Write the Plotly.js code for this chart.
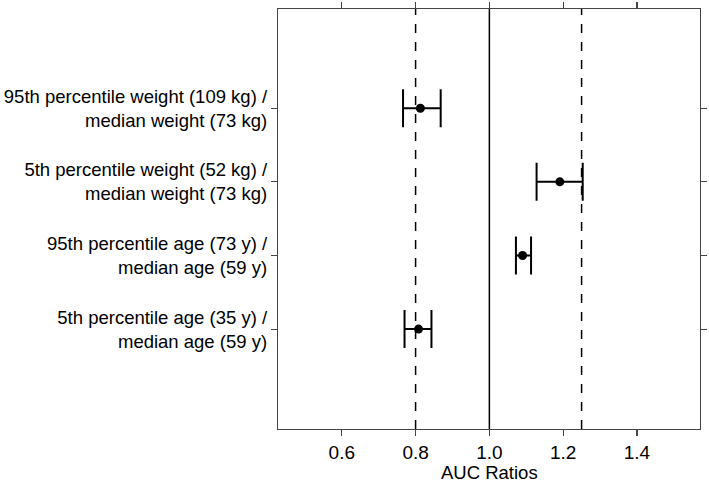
<!DOCTYPE html>
<html>
<head>
<meta charset="utf-8">
<script src="https://cdn.plot.ly/plotly-3.0.1.min.js"></script>
<style>html,body{margin:0;padding:0;background:#fff;}#chart{width:709px;height:483px;}</style>
</head>
<body>
<div id="chart"></div>
<script>
const labels = [
  "95th percentile weight (109 kg) /<br>median weight (73 kg)",
  "5th percentile weight (52 kg) /<br>median weight (73 kg)",
  "95th percentile age (73 y) /<br>median age (59 y)",
  "5th percentile age (35 y) /<br>median age (59 y)"
];
const rowPos = [4, 3, 2, 1];
const ratio = [0.813, 1.191, 1.090, 0.808];
const lower = [0.766, 1.128, 1.072, 0.770];
const upper = [0.868, 1.253, 1.113, 0.843];
const refDashed = [0.8, 1.25];
const refSolid = [1.0];
const xTicks = [0.6, 0.8, 1.0, 1.2, 1.4];
const xTickText = ["0.6", "0.8", "1.0", "1.2", "1.4"];
const xTitle = "AUC Ratios";

const font = "Liberation Sans, Arial, Helvetica, sans-serif";
const fs = 19;

const trace = {
  type: "scatter",
  mode: "markers",
  x: ratio,
  y: rowPos,
  marker: {color: "#000", size: 9},
  error_x: {
    type: "data",
    symmetric: false,
    array: ratio.map((v, i) => upper[i] - v),
    arrayminus: ratio.map((v, i) => v - lower[i]),
    color: "#000",
    thickness: 2,
    width: 19
  },
  hoverinfo: "skip",
  cliponaxis: false
};

const shapes = [];
refDashed.forEach(v => shapes.push({type: "line", xref: "x", yref: "paper", x0: v, x1: v, y0: 0, y1: 1, line: {color: "#000", width: 1.5, dash: "dash"}, layer: "below"}));
refSolid.forEach(v => shapes.push({type: "line", xref: "x", yref: "paper", x0: v, x1: v, y0: 0, y1: 1, line: {color: "#000", width: 1.5}, layer: "below"}));

const layout = {
  width: 709, height: 483,
  margin: {l: 278, r: 9, t: 9, b: 54},
  paper_bgcolor: "#fff", plot_bgcolor: "#fff",
  showlegend: false,
  font: {family: font, size: fs, color: "#000"},
  xaxis: {
    range: [0.427, 1.571],
    tickvals: xTicks, ticktext: xTickText,
    ticks: "outside", ticklen: 6, tickwidth: 1.2, tickcolor: "#444",
    showline: true, linecolor: "#444", linewidth: 1.2, mirror: "ticks",
    showgrid: false, zeroline: false,
    tickfont: {family: font, size: fs, color: "#000"}
  },
  yaxis: {
    range: [-0.357, 5.348],
    tickvals: rowPos, ticktext: labels,
    ticks: "outside", ticklen: 6, tickwidth: 1.2, tickcolor: "#444",
    showline: true, linecolor: "#444", linewidth: 1.2, mirror: "ticks",
    showgrid: false, zeroline: false,
    tickfont: {family: font, size: 18.5, color: "#000"},
    automargin: false
  },
  annotations: [{
    text: xTitle, xref: "x", yref: "paper", x: 1.0, y: 0,
    xanchor: "center", yanchor: "top", yshift: -32, borderpad: 0, showarrow: false,
    font: {family: font, size: 18.5, color: "#000"}
  }],
  shapes: shapes
};

Plotly.newPlot("chart", [trace], layout, {displayModeBar: false, staticPlot: true});
</script>
</body>
</html>
